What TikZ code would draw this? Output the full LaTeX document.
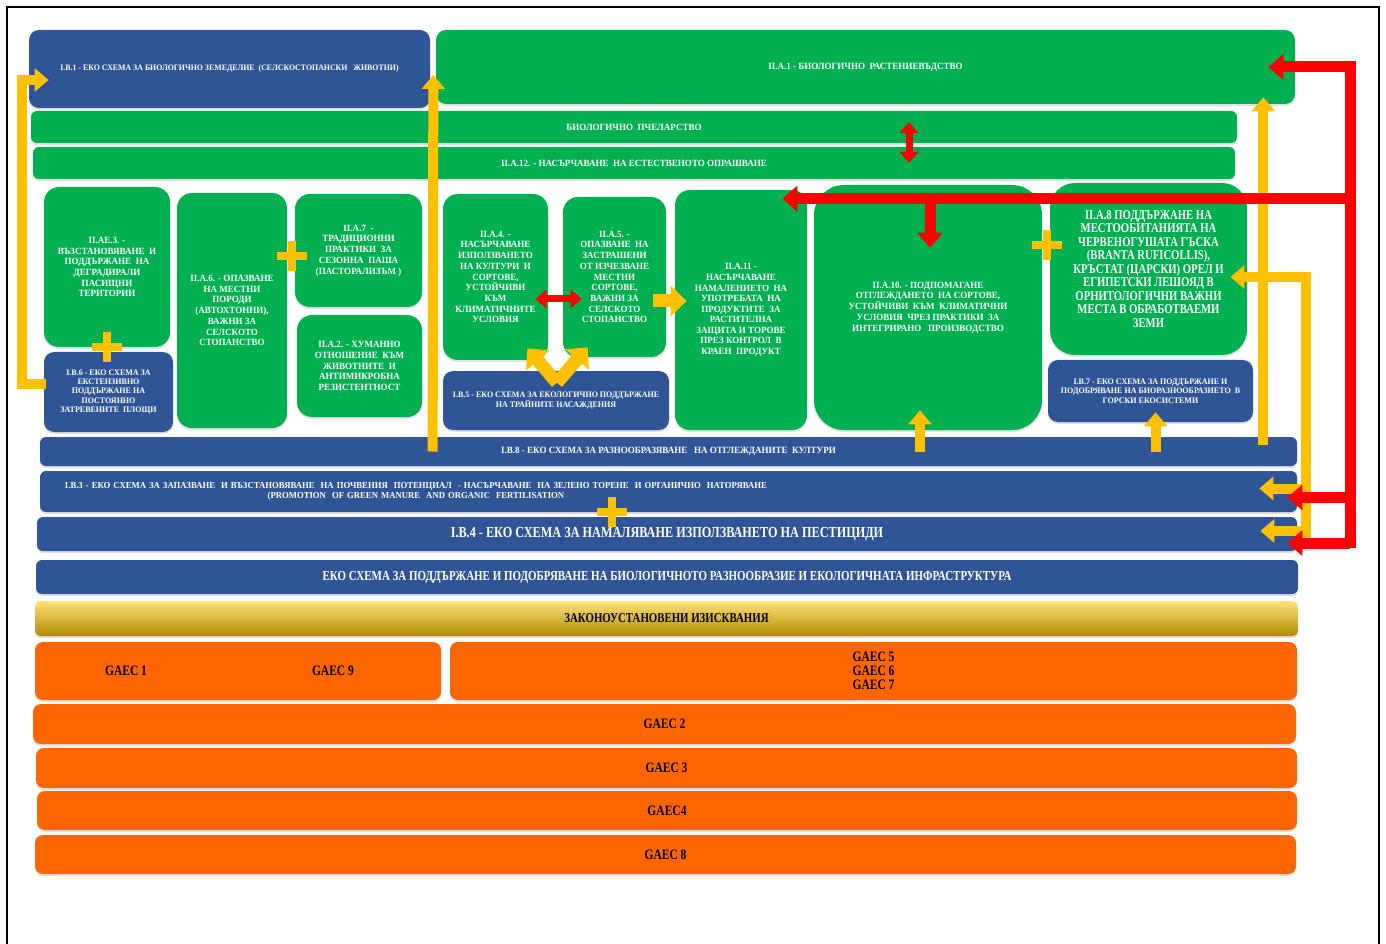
\documentclass[tikz,border=0pt]{standalone}
\usepackage{fontspec}
\newfontfamily\schfont{Liberation Serif}[FakeStretch=0.95]
\newfontfamily\schfontc{Liberation Serif}[FakeStretch=0.8]
\usetikzlibrary{arrows.meta,calc,shadows}
\definecolor{schblue}{HTML}{2F5597}
\definecolor{schgreen}{HTML}{00B050}
\definecolor{schorange}{HTML}{FF6600}
\definecolor{schgold}{HTML}{FFC000}
\definecolor{schgoldtop}{HTML}{FFE27A}
\definecolor{schgoldbot}{HTML}{B08C00}
\definecolor{schred}{HTML}{FF0000}

\begin{document}
\begin{tikzpicture}[
  x=0.2mm, y=-0.2mm,
  every node/.style={inner sep=1pt, align=center, text=white},
  sz/.style 2 args={minimum width=#1*0.2mm, minimum height=#2*0.2mm},
  fs/.style 2 args={font=\schfont\bfseries\fontsize{#1}{#2}\selectfont},
  fc/.style 2 args={font=\schfontc\bfseries\fontsize{#1}{#2}\selectfont},
  shd/.style={drop shadow={shadow xshift=0pt, shadow yshift=-0.4mm, opacity=0.25}},
  bbox/.style={fill=schblue, rounded corners=2mm, shd},
  gbox/.style={fill=schgreen, rounded corners=3mm, shd},
  obox/.style={fill=schorange, rounded corners=1.6mm, text=black, shd},
  bar/.style={rounded corners=1.2mm},
  yarr/.style={draw=schgold, line width=2mm, line join=miter, -{Triangle[width=4.6mm,length=2.8mm]}},
  yarrw/.style={draw=schgold, line width=2.6mm, -{Triangle[width=6mm,length=3.2mm]}},
  rarr/.style={draw=schred, line width=2.2mm, line join=miter, -{Triangle[width=5mm,length=3mm]}},
  rdbl/.style={draw=schred, line width=1.4mm, {Triangle[width=3.6mm,length=2.2mm]}-{Triangle[width=3.6mm,length=2.2mm]}}
]
\useasboundingbox (0,0) rectangle (1386,944);
\draw[line width=0.6pt] (7,960) -- (7,7) -- (1379,7) -- (1379,960);

\node[bbox, sz={401}{78}, fs={4.7}{5}] (b1) at (229.5,69) {I.B.1 - ЕКО СХЕМА ЗА БИОЛОГИЧНО ЗЕМЕДЕЛИЕ\ \ (СЕЛСКОСТОПАНСКИ\ \ \ ЖИВОТНИ)};
\node[gbox, rounded corners=2mm, sz={859}{74}, fs={5.4}{6}] (a1) at (865.5,67) {II.A.1 - БИОЛОГИЧНО\ \ РАСТЕНИЕВЪДСТВО};
\node[gbox, bar, sz={1206}{32}, fs={5.4}{6}] (bee) at (634,127) {БИОЛОГИЧНО\ \ ПЧЕЛАРСТВО};
\node[gbox, bar, sz={1202}{32}, fs={5.4}{6}] (a12) at (634,163) {II.A.12. - НАСЪРЧАВАНЕ\ \ НА ЕСТЕСТВЕНОТО ОПРАШВАНЕ};

\node[gbox, sz={126}{160}, fs={5.4}{6.1}] (ae3) at (107,267) {II.AE.3. -\\ВЪЗСТАНОВЯВАНЕ\ \ И\\ПОДДЪРЖАНЕ\ \ НА\\ДЕГРАДИРАЛИ\\ПАСИЩНИ\\ТЕРИТОРИИ};
\node[bbox, sz={129}{80}, fs={4.8}{5.3}] (b6) at (108.5,392) {I.B.6 - ЕКО СХЕМА ЗА\\ЕКСТЕНЗИВНО\\ПОДДЪРЖАНЕ НА\\ПОСТОЯННО\\ЗАТРЕВЕНИТЕ\ \ ПЛОЩИ};
\node[gbox, sz={110}{235}, fs={5.4}{6.1}] (a6) at (232,310.5) {II.A.6. - ОПАЗВАНЕ\\НА МЕСТНИ\\ПОРОДИ\\(АВТОХТОННИ),\\ВАЖНИ ЗА\\СЕЛСКОТО\\СТОПАНСТВО};
\node[gbox, sz={127}{113}, fs={5.4}{6.1}] (a7) at (358.5,250.5) {II.A.7\ \ -\\ТРАДИЦИОННИ\\ПРАКТИКИ\ \ ЗА\\СЕЗОННА\ \ ПАША\\(ПАСТОРАЛИЗЪМ )};
\node[gbox, sz={125}{102}, fs={5.4}{6.1}] (a2) at (359.5,366) {II.A.2. - ХУМАННО\\ОТНОШЕНИЕ\ \ КЪМ\\ЖИВОТНИТЕ\ \ И\\АНТИМИКРОБНА\\РЕЗИСТЕНТНОСТ};
\node[gbox, sz={105}{166}, fs={5.4}{6.1}] (a4) at (495.5,277) {II.A.4. -\\НАСЪРЧАВАНЕ\\ИЗПОЛЗВАНЕТО\\НА КУЛТУРИ\ \ И\\СОРТОВЕ,\\УСТОЙЧИВИ\\КЪМ\\КЛИМАТИЧНИТЕ\\УСЛОВИЯ};
\node[gbox, sz={103}{160}, fs={5.4}{6.1}] (a5) at (614.5,277) {II.A.5. -\\ОПАЗВАНЕ\ \ НА\\ЗАСТРАШЕНИ\\ОТ ИЗЧЕЗВАНЕ\\МЕСТНИ\\СОРТОВЕ,\\ВАЖНИ ЗА\\СЕЛСКОТО\\СТОПАНСТВО};
\node[bbox, sz={226}{59}, fs={4.8}{5.3}] (b5) at (556,400.5) {I.B.5 - ЕКО СХЕМА ЗА ЕКОЛОГИЧНО ПОДДЪРЖАНЕ\\НА ТРАЙНИТЕ НАСАЖДЕНИЯ};
\node[gbox, sz={132}{240}, fs={5.4}{6}] (a11) at (741,310) {II.A.11 -\\НАСЪРЧАВАНЕ\\НАМАЛЕНИЕТО\ \ НА\\УПОТРЕБАТА\ \ НА\\ПРОДУКТИТЕ\ \ ЗА\\РАСТИТЕЛНА\\ЗАЩИТА И ТОРОВЕ\\ПРЕЗ КОНТРОЛ\ \ В\\КРАЕН\ \ ПРОДУКТ};
\node[gbox, rounded corners=6mm, sz={228}{245}, fs={5.4}{6.1}] (a10) at (928,307.5) {II.A.10. - ПОДПОМАГАНЕ\\ОТГЛЕЖДАНЕТО\ \ НА СОРТОВЕ,\\УСТОЙЧИВИ\ \ КЪМ\ \ КЛИМАТИЧНИ\\УСЛОВИЯ\ \ ЧРЕЗ ПРАКТИКИ\ \ ЗА\\ИНТЕГРИРАНО\ \ \ ПРОИЗВОДСТВО};
\node[gbox, rounded corners=5mm, sz={197}{172}, fc={7.6}{7.7}] (a8) at (1148.5,269) {II.A.8 ПОДДЪРЖАНЕ НА\\МЕСТООБИТАНИЯТА НА\\ЧЕРВЕНОГУШАТА ГЪСКА\\(BRANTA RUFICOLLIS),\\КРЪСТАТ (ЦАРСКИ) ОРЕЛ И\\ЕГИПЕТСКИ ЛЕШОЯД В\\ОРНИТОЛОГИЧНИ ВАЖНИ\\МЕСТА В ОБРАБОТВАЕМИ\\ЗЕМИ};
\node[bbox, sz={205}{62}, fs={4.8}{5.3}] (b7) at (1150.5,391) {I.B.7 - ЕКО СХЕМА ЗА ПОДДЪРЖАНЕ И\\ПОДОБРЯВАНЕ НА БИОРАЗНООБРАЗИЕТО\ \ В\\ГОРСКИ ЕКОСИСТЕМИ};

\node[bbox, bar, sz={1257}{29}, fs={5.4}{6}] (b8) at (668.5,451.5) {I.B.8 - ЕКО СХЕМА ЗА РАЗНООБРАЗЯВАНЕ\ \ \ НА ОТГЛЕЖДАНИТЕ\ \ КУЛТУРИ};
\node[bbox, bar, sz={1257}{41}, fs={5.2}{5.6}, text width=24.14cm, inner sep=0pt, align=left] (b3) at (668.5,491.5) {\begin{tabular}{@{}c@{}}I.B.3 - ЕКО СХЕМА ЗА ЗАПАЗВАНЕ\ \ И ВЪЗСТАНОВЯВАНЕ\ \ НА ПОЧВЕНИЯ\ \ ПОТЕНЦИАЛ\ \ - НАСЪРЧАВАНЕ\ \ НА ЗЕЛЕНО ТОРЕНЕ\ \ И ОРГАНИЧНО\ \ НАТОРЯВАНЕ\\(PROMOTION\ \ OF GREEN MANURE\ \ AND ORGANIC\ \ FERTILISATION\end{tabular}};
\node[bbox, bar, sz={1260}{34}, fc={8.7}{8.7}] (b4) at (667,534) {I.B.4 - ЕКО СХЕМА ЗА НАМАЛЯВАНЕ ИЗПОЛЗВАНЕТО НА ПЕСТИЦИДИ};
\node[bbox, bar, sz={1262}{34}, fc={7.8}{7.8}] (bio) at (667,577) {ЕКО СХЕМА ЗА ПОДДЪРЖАНЕ И ПОДОБРЯВАНЕ НА БИОЛОГИЧНОТО РАЗНООБРАЗИЕ И ЕКОЛОГИЧНАТА ИНФРАСТРУКТУРА};
\node[bar, top color=schgoldtop, middle color=schgold, bottom color=schgoldbot, shd, text=black, sz={1263}{35}, fc={7.7}{7.7}] (req) at (666.5,618.5) {ЗАКОНОУСТАНОВЕНИ ИЗИСКВАНИЯ};

\node[obox, sz={406}{58}, fc={8.2}{8.4}] (g19) at (238,671) {GAEC 1\hspace{3.3cm}GAEC 9\hspace*{0.34cm}};
\node[obox, sz={847}{58}, fc={8.2}{8}] (g567) at (873.5,671) {GAEC 5\\GAEC 6\\GAEC 7};
\node[obox, sz={1263}{40}, fc={8.2}{8.4}] (g2) at (664.5,724) {GAEC 2};
\node[obox, sz={1261}{40}, fc={8.2}{8.4}] (g3) at (666.5,768) {GAEC 3};
\node[obox, sz={1260}{39}, fc={8.2}{8.4}] (g4) at (667,810.5) {GAEC4};
\node[obox, sz={1261}{39}, fc={8.2}{8.4}] (g8) at (665.5,854.5) {GAEC 8};

\foreach \px/\py in {107/347, 292/256, 1047/245, 612/512} {
  \fill[schgold] (\px-15,\py-4) rectangle (\px+15,\py+4);
  \fill[schgold] (\px-4,\py-15) rectangle (\px+4,\py+15);
}

\coordinate (ys) at (1306,538);
\coordinate (rb) at (1350,548);

\draw[yarr] ($(b8.west)+(393,0)$) -- ($(b1.east)+(3,6)$);
\draw[yarr] ($(b8.north east)+(-34,8)$) -- ($(a1.south east)+(-32,-7)$);
\draw[yarr] ($(a10.south)+(-8,22)$) -- ($(a10.south)+(-8,-20)$);
\draw[yarr] ($(b7.south)+(5,30)$) -- ($(b7.south)+(5,-10)$);
\draw[yarr] ($(b6.west)+(2,-8)$) -| ($(b1.west)+(-7,11)$) -- ($(b1.west)+(20,11)$);
\draw[yarr] (ys) |- ($(a8.east)+(-17,8)$);
\draw[yarr] ($(ys |- b3.east)+(0,-3)$) -- ($(b3.east)+(-38,-3)$);
\draw[yarr] ($(ys |- b4.east)+(0,-3)$) -- ($(b4.east)+(-37,-3)$);
\draw[yarrw] ($(a5.east)+(-13,24)$) -- ($(a11.west)+(12,-9)$);
\draw[yarrw] ($(b5.north)+(1,12)$) -- ($(a4.south east)+(-21,-12)$);
\draw[yarrw] ($(b5.north)+(1,12)$) -- ($(a5.south west)+(25,-10)$);

\draw[rarr] (rb) |- ($(a1.east)+(-27,0)$);
\draw[rarr] ($(rb |- a11.north)+(5.5,9)$) -- ($(a11.north east)+(-25,9)$);
\draw[rarr] ($(a10.north)+(2,14)$) -- ($(a10.north)+(2,63)$);
\draw[rarr] ($(rb |- b3.east)+(0,6)$) -- ($(b3.east)+(-10,6)$);
\draw[rarr] ($(rb |- b4.east)+(0,9)$) -- ($(b4.east)+(-10,9)$);
\draw[rdbl] ($(bee.center)+(275,-5)$) -- ($(a12.center)+(275,0)$);
\draw[rdbl] ($(a4.east)+(-13,22)$) -- ($(a5.west)+(19,22)$);
\end{tikzpicture}
\end{document}
